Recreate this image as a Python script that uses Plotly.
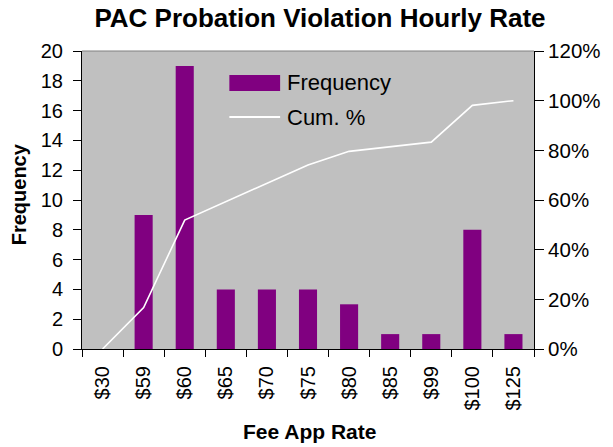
import plotly.graph_objects as go

categories = ["$30", "$59", "$60", "$65", "$70", "$75", "$80", "$85", "$99", "$100", "$125"]
frequency = [0, 9, 19, 4, 4, 4, 3, 1, 1, 8, 1]
cum_pct = [0.0, 0.167, 0.519, 0.593, 0.667, 0.741, 0.796, 0.815, 0.833, 0.981, 1.0]
y_ticks = list(range(0, 21, 2))
pct_ticks = [0, 0.2, 0.4, 0.6, 0.8, 1.0, 1.2]

FONT = "Liberation Sans, Arial, sans-serif"
PURPLE = "#800080"

# The page body has an 8px default margin; work in window pixels and subtract it.
OFF = 8
W, H = 613 - OFF, 447 - OFF
L, R, T, B = 82 - OFF, 536 - OFF, 51 - OFF, 349 - OFF

def px(x):
    return (x - OFF - L) / (R - L)
def py(y):
    return (B - (y - OFF)) / (B - T)

fig = go.Figure()
fig.add_trace(go.Bar(x=categories, y=frequency, name="Frequency", showlegend=False,
                     marker=dict(color=PURPLE, line=dict(width=0)), width=0.44))
fig.add_trace(go.Scatter(x=categories, y=cum_pct, name="Cum. %", yaxis="y2", showlegend=False,
                         mode="lines", line=dict(color="white", width=1.6)))

n = len(categories)
fig.update_layout(
    width=W, height=H,
    margin=dict(l=L, r=W - R, t=T, b=H - B),
    paper_bgcolor="white", plot_bgcolor="#C0C0C0",
    font=dict(family=FONT, size=20, color="black"),
    title=dict(text="<b>PAC Probation Violation Hourly Rate</b>", x=(320 - OFF) / W,
               xanchor="center", y=1 - (18 - OFF) / H, yanchor="middle",
               font=dict(size=26, family=FONT)),
    showlegend=False,
    xaxis=dict(type="category", tickangle=-90, tickson="boundaries", ticks="outside",
               ticklen=7, tickcolor="black", showline=True, linecolor="black", linewidth=1,
               showgrid=False, tickfont=dict(size=20), range=[-0.5, n - 0.5],
               ticklabelstandoff=8),
    yaxis=dict(range=[0, 20], tickvals=y_ticks, ticks="outside", ticklen=8, tickcolor="black",
               showline=True, linecolor="black", linewidth=1, showgrid=False, zeroline=False,
               tickfont=dict(size=20), ticklabelstandoff=6),
    yaxis2=dict(range=[0, 1.2], tickvals=pct_ticks, tickformat=".0%", overlaying="y", side="right",
                ticks="outside", ticklen=9, tickcolor="black", showline=True, linecolor="black",
                linewidth=1, showgrid=False, zeroline=False, tickfont=dict(size=20.5)),
    # inner halves of the cross tick marks
    xaxis2=dict(overlaying="x", anchor="y", range=[-0.5, n - 0.5], tick0=-0.5, dtick=1,
                ticks="inside", ticklen=6, tickcolor="black", showticklabels=False,
                showgrid=False, zeroline=False, showline=False),
    yaxis3=dict(overlaying="y", anchor="x", side="left", range=[0, 20], tickvals=y_ticks,
                ticks="inside", ticklen=5, tickcolor="black", showticklabels=False,
                showgrid=False, zeroline=False, showline=False),
    yaxis4=dict(overlaying="y", anchor="x", side="right", range=[0, 1.2], tickvals=pct_ticks,
                ticks="inside", ticklen=6, tickcolor="black", showticklabels=False,
                showgrid=False, zeroline=False, showline=False),
)

# top border of plot area
fig.add_shape(type="line", xref="paper", yref="paper", x0=0, x1=1, y0=1, y1=1,
              line=dict(color="#808080", width=1))

# legend (drawn by hand to match the wide swatches)
fig.add_shape(type="rect", xref="paper", yref="paper", x0=px(230), x1=px(281),
              y0=py(91), y1=py(75), fillcolor=PURPLE, line=dict(width=0))
fig.add_shape(type="line", xref="paper", yref="paper", x0=px(230), x1=px(281),
              y0=py(117), y1=py(117), line=dict(color="white", width=2))
fig.add_annotation(text="Frequency", xref="paper", yref="paper", x=px(286), y=py(83),
                   xanchor="left", yanchor="middle", showarrow=False, font=dict(size=22))
fig.add_annotation(text="Cum. %", xref="paper", yref="paper", x=px(286), y=py(117),
                   xanchor="left", yanchor="middle", showarrow=False, font=dict(size=22))

# axis titles
fig.add_annotation(text="<b>Frequency</b>", xref="paper", yref="paper", x=px(19), y=py(194),
                   xanchor="center", yanchor="middle", textangle=-90, showarrow=False,
                   font=dict(size=20))
fig.add_annotation(text="<b>Fee App Rate</b>", xref="paper", yref="paper", x=px(311), y=py(431),
                   xanchor="center", yanchor="middle", showarrow=False, font=dict(size=21))

fig.write_html("out.html")
